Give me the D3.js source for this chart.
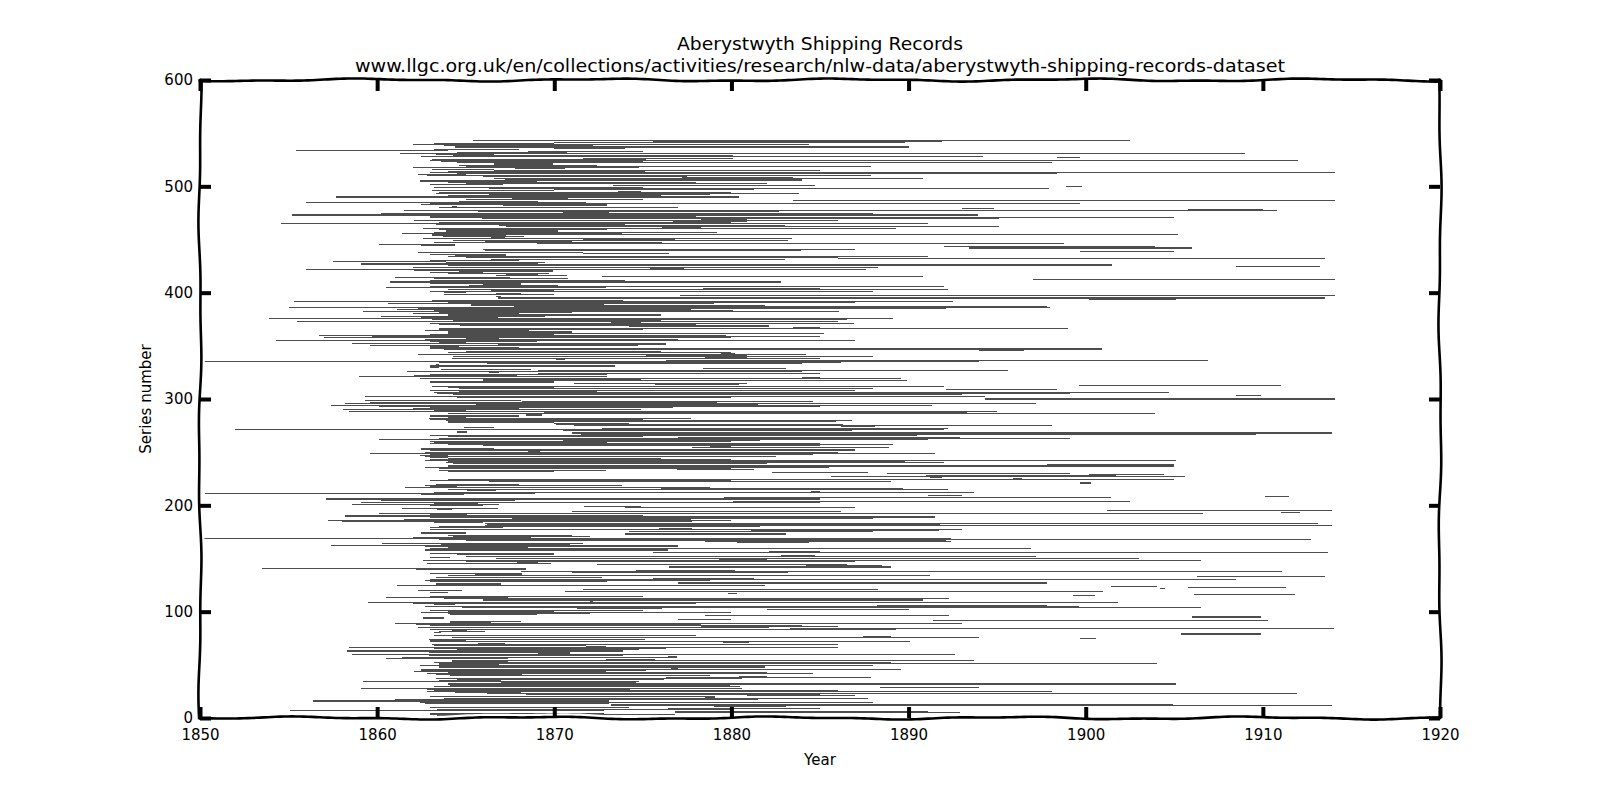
<!DOCTYPE html>
<html lang="en">
<head>
    <meta charset="utf-8"/>
    <title>Aberystwyth Shipping Records</title>
    <!-- d3 draws everything as svg -->
    <script src="https://d3js.org/d3.v7.min.js"></script>
    <style>
        body { margin: 0; background: #fff; }
        text { font-family: "DejaVu Sans", sans-serif; fill: #000; }
    </style>
</head>
<body>
<script>
    // every entry is [series number, first year, last year]
    const band500 = [
        [543,1865.4,1902.5],[542,1875.6,1891.9],[541,1870.0,1889.8],[540,1863.2,1870.0],[539,1862.0,1884.4],
        [538,1863.8,1872.2],[537,1864.4,1890.0],[536,1870.0,1874.0],[535,1863.2,1868.0],[534,1855.4,1864.0],
        [533,1868.5,1875.0],[532,1864.5,1870.7],[531,1861.3,1909.0],[530,1863.3,1866.6],[529,1864.3,1880.1],
        [528,1862.5,1894.2],[527,1898.4,1899.7],[526,1871.6,1880.1],[525,1863.1,1875.2],[524,1863.0,1912.0],
        [523,1863.6,1875.0],[522,1864.5,1898.1],[521,1866.6,1869.9],[520,1864.6,1872.4],[519,1865.0,1887.9],
        [518,1862.0,1874.8],[517,1867.8,1870.6],[516,1863.1,1866.6],[515,1866.6,1885.0],[514,1864.0,1875.1],
        [513,1863.0,1914.1],[512,1864.5,1898.4],[511,1862.3,1865.0],[510,1862.8,1887.9],[509,1866.0,1877.5],
        [508,1877.2,1883.5],[507,1866.6,1890.8],[506,1867.2,1884.0],[505,1862.4,1869.0],[504,1864.0,1878.0],
        [503,1865.0,1882.0],[502,1863.0,1867.1],[501,1873.3,1884.7],[500,1898.9,1899.8]
    ];
    const band400 = [
        [499,1863.2,1875.0],[498,1866.3,1897.9],[497,1870.0,1881.3],[496,1863.1,1870.0],[495,1873.6,1874.9],
        [494,1863.5,1880.0],[493,1863.3,1883.8],[492,1866.3,1878.8],[491,1864.0,1876.0],[490,1857.7,1880.4],
        [489,1867.6,1870.8],[488,1865.0,1875.0],[487,1883.5,1914.1],[486,1864.6,1869.1],[485,1856.0,1871.8],
        [484,1863.0,1899.7],[483,1862.5,1873.0],[482,1867.1,1873.0],[481,1864.2,1864.5],[480,1863.5,1877.0],
        [479,1893.0,1894.8],[478,1905.8,1910.0],[477,1861.5,1910.8],[476,1865.7,1882.7],[475,1870.5,1873.1],
        [474,1860.2,1888.0],[473,1855.2,1893.9],[472,1863.0,1878.0],[471,1863.0,1905.0],[470,1865.9,1895.1],
        [469,1878.3,1880.9],[468,1862.1,1886.0],[467,1876.7,1880.9],[466,1863.5,1880.0],[465,1854.6,1891.1],
        [464,1863.3,1874.0],[463,1866.9,1883.0],[462,1867.3,1895.1],[461,1876.1,1878.3],[460,1862.6,1889.3],
        [459,1863.5,1873.0],[458,1863.9,1870.2],[457,1863.2,1879.2],[456,1861.4,1873.8],[455,1863.1,1905.2],
        [454,1863.1,1867.3],[453,1863.7,1868.3],[452,1866.4,1867.2],[451,1862.6,1883.4],[450,1871.6,1876.8],
        [449,1864.3,1883.2],[448,1866.1,1871.0],[447,1863.2,1876.1],[446,1869.0,1898.8],[445,1860.1,1864.4],
        [444,1862.5,1864.4],[443,1892.0,1903.9],[442,1893.4,1906.0],[441,1866.0,1887.0],[440,1866.1,1883.9],
        [439,1899.7,1905.0],[438,1862.3,1871.6],[437,1871.6,1876.5],[436,1863.0,1867.3],[435,1864.4,1867.3],
        [434,1864.0,1891.1],[433,1865.0,1886.0],[432,1886.0,1913.5],[431,1866.4,1883.0],[430,1863.0,1868.0],
        [429,1857.5,1863.9],[428,1863.9,1869.5],[427,1859.1,1869.1],[426,1864.0,1901.5],[425,1908.5,1913.2],
        [424,1862.0,1888.3],[423,1875.4,1877.3],[422,1856.0,1887.6],[421,1862.1,1869.9],[420,1864.6,1869.9],
        [419,1863.0,1866.0],[418,1864.0,1869.7],[417,1867.3,1869.1],[416,1866.7,1870.7],[415,1872.7,1890.8],
        [414,1861.0,1867.5],[413,1863.2,1870.8],[412,1897.0,1914.1],[411,1863.0,1874.0],[410,1860.7,1882.8],
        [409,1863.0,1868.1],[408,1866.0,1868.1],[407,1865.2,1870.2],[406,1863.0,1892.0],[405,1860.5,1872.9],
        [404,1878.4,1885.0],[403,1864.0,1892.2],[402,1866.4,1870.0],[401,1863.0,1888.0],[400,1863.8,1865.0]
    ];
    const band300 = [
        [399,1866.7,1868.1],[398,1863.8,1870.0],[397,1877.1,1914.1],[396,1866.7,1867.0],[395,1866.8,1913.5],
        [394,1900.2,1905.1],[393,1863.1,1873.9],[392,1855.3,1892.5],[391,1864.0,1887.0],[390,1860.6,1879.0],
        [389,1865.3,1872.8],[388,1865.3,1881.9],[387,1867.7,1897.8],[386,1855.0,1898.0],[385,1862.3,1892.1],
        [384,1861.1,1877.7],[383,1863.2,1880.1],[382,1859.2,1886.1],[381,1863.5,1871.0],[380,1862.0,1868.0],
        [379,1864.0,1876.0],[378,1860.2,1869.5],[377,1862.5,1866.8],[376,1853.9,1889.1],[375,1863.1,1886.5],
        [374,1864.3,1876.0],[373,1855.5,1886.0],[372,1873.2,1874.9],[371,1863.0,1886.9],[370,1863.5,1878.0],
        [369,1864.7,1882.1],[368,1874.2,1882.1],[367,1883.5,1885.0],[366,1863.5,1899.0],[365,1863.5,1875.0],
        [364,1862.7,1868.6],[363,1864.0,1871.0],[362,1864.0,1885.2],[361,1863.0,1870.0],[360,1856.7,1879.7],
        [359,1859.7,1885.0],[358,1857.0,1880.0],[357,1865.0,1866.9],[356,1862.7,1877.0],[355,1854.3,1887.0],
        [354,1863.0,1869.0],[353,1863.5,1865.0],[352,1858.6,1876.3],[351,1866.8,1876.3],[350,1859.6,1874.7],
        [349,1863.0,1864.6],[348,1863.0,1868.0],[347,1863.8,1900.9],[346,1894.0,1896.5],[345,1865.0,1876.0],
        [344,1864.0,1880.0],[343,1879.4,1880.2],[342,1862.3,1884.2],[341,1875.2,1880.9],[340,1864.3,1888.0],
        [339,1878.5,1880.9],[338,1864.2,1885.0],[337,1870.1,1870.6],[336,1876.3,1906.9],[335,1850.2,1894.0],
        [334,1863.5,1886.2],[333,1866.2,1884.0],[332,1863.3,1863.5],[331,1863.0,1873.4],[330,1863.0,1863.5],
        [329,1878.4,1883.1],[328,1863.6,1868.7],[327,1869.1,1895.6],[326,1861.7,1884.0],[325,1866.3,1866.9],
        [324,1869.1,1885.0],[323,1863.0,1873.0],[322,1862.1,1867.9],[321,1859.0,1873.0],[320,1884.0,1885.0],
        [319,1862.4,1889.6],[318,1866.0,1874.9],[317,1866.0,1889.9],[316,1863.0,1870.0],[315,1871.1,1880.9],
        [314,1875.7,1880.4],[313,1899.6,1911.0],[312,1863.1,1892.0],[311,1864.0,1870.0],[310,1864.6,1888.0],
        [309,1892.1,1898.4],[308,1863.0,1887.0],[307,1864.6,1872.4],[306,1863.2,1904.7],[305,1863.4,1899.1],
        [304,1864.3,1893.0],[303,1908.5,1909.9],[302,1859.3,1894.3],[301,1864.5,1880.0],[300,1894.3,1914.1]
    ];
    const band200 = [
        [299,1859.3,1868.1],[298,1868.2,1884.6],[297,1859.6,1879.2],[296,1858.2,1897.2],[295,1865.6,1881.5],
        [294,1857.4,1891.3],[293,1860.1,1885.0],[292,1863.0,1876.7],[291,1862.0,1868.0],[290,1858.1,1874.9],
        [289,1863.2,1865.0],[288,1858.4,1895.0],[287,1869.4,1893.3],[286,1864.0,1903.9],[285,1868.4,1869.3],
        [284,1863.0,1868.0],[283,1864.0,1865.0],[282,1862.9,1877.7],[281,1863.0,1875.0],[280,1863.9,1886.8],
        [279,1864.0,1885.9],[278,1864.0,1870.0],[277,1870.0,1874.2],[276,1870.1,1886.3],[275,1871.1,1898.1],
        [274,1886.2,1888.1],[273,1864.9,1866.6],[272,1872.7,1892.2],[271,1852.0,1892.0],[270,1870.5,1886.8],
        [269,1864.5,1865.1],[268,1871.0,1913.9],[267,1871.5,1909.6],[266,1863.0,1890.5],[265,1864.0,1875.0],
        [264,1877.0,1892.9],[263,1863.5,1899.1],[262,1860.1,1891.1],[261,1870.5,1881.6],[260,1863.0,1880.0],
        [259,1863.2,1873.0],[258,1863.0,1885.0],[257,1864.0,1889.1],[256,1866.0,1885.0],[255,1878.8,1880.0],
        [254,1877.8,1888.9],[253,1862.5,1866.6],[252,1863.0,1887.0],[251,1868.5,1869.2],[250,1862.7,1886.0],
        [249,1859.6,1891.5],[248,1863.0,1884.6],[247,1862.4,1864.0],[246,1862.7,1882.5],[245,1863.0,1864.0],
        [244,1864.0,1876.0],[243,1863.0,1880.0],[242,1862.7,1905.1],[241,1864.0,1889.8],[240,1863.9,1892.0],
        [239,1864.3,1882.0],[238,1897.8,1905.0],[237,1864.0,1905.0],[236,1862.7,1885.5],[235,1863.5,1880.0],
        [234,1876.9,1881.3],[233,1863.5,1872.9],[232,1864.0,1870.0],[231,1882.3,1887.7],[230,1888.8,1899.1],
        [229,1900.2,1904.4],[228,1891.0,1901.7],[227,1885.6,1905.6],[226,1891.2,1891.9],[225,1895.9,1896.4],
        [224,1864.0,1905.0],[223,1863.0,1880.0],[222,1866.3,1889.0],[221,1899.7,1900.3],[220,1863.3,1868.0],
        [219,1862.7,1873.8],[218,1863.0,1864.5],[217,1861.6,1878.8],[216,1876.0,1889.7],[215,1864.0,1892.2],
        [214,1865.1,1866.7],[213,1884.5,1885.0],[212,1863.2,1893.7],[211,1850.3,1868.9],[210,1862.5,1864.9],
        [209,1891.1,1893.0],[208,1910.1,1911.5],[207,1879.6,1901.4],[206,1857.1,1885.0],[205,1860.2,1867.8],
        [204,1880.1,1902.5],[203,1859.1,1885.0],[202,1863.2,1865.7],[201,1858.6,1866.9],[200,1863.0,1866.0]
    ];
    const band100 = [
        [199,1871.7,1874.9],[198,1874.0,1887.0],[197,1861.4,1866.8],[196,1863.4,1864.2],[195,1901.2,1913.9],
        [194,1871.0,1886.2],[193,1911.0,1912.1],[192,1860.1,1906.6],[191,1863.0,1865.1],[190,1858.2,1875.0],
        [189,1863.0,1891.5],[188,1867.6,1888.0],[187,1861.5,1877.7],[186,1857.2,1880.0],[185,1858.0,1877.8],
        [184,1863.2,1866.0],[183,1866.1,1913.1],[182,1866.2,1891.8],[181,1866.1,1913.9],[180,1863.5,1881.6],
        [179,1863.0,1867.1],[178,1875.9,1877.8],[177,1863.0,1893.0],[176,1881.1,1891.7],[175,1874.2,1888.0],
        [174,1862.5,1865.0],[173,1874.0,1883.1],[172,1864.0,1871.0],[171,1864.3,1872.0],[170,1862.0,1868.7],
        [169,1850.2,1892.4],[168,1863.5,1912.7],[167,1865.0,1892.1],[166,1878.5,1892.4],[165,1880.3,1884.4],
        [164,1860.3,1871.6],[163,1863.6,1870.9],[162,1857.4,1877.0],[161,1862.7,1877.0],[160,1864.0,1868.5],
        [159,1863.0,1896.9],[158,1862.7,1876.4],[157,1882.1,1885.0],[156,1875.6,1913.7],[155,1863.0,1870.0],
        [154,1864.5,1870.0],[153,1882.8,1884.7],[152,1865.0,1897.2],[151,1863.0,1864.1],[150,1866.7,1903.0],
        [149,1879.3,1882.0],[148,1862.6,1906.5],[147,1865.0,1887.0],[146,1867.9,1869.1],[145,1862.8,1869.8],
        [144,1872.4,1886.5],[143,1884.2,1888.5],[142,1876.5,1889.0],[141,1853.5,1868.4],[140,1862.2,1868.4],
        [139,1874.6,1880.2],[138,1868.1,1911.1],[137,1871.0,1883.2],[136,1863.0,1868.2],[135,1865.5,1868.2],
        [134,1864.0,1891.2],[133,1906.3,1913.5],[132,1863.3,1872.7],[131,1875.6,1881.3],[130,1863.0,1908.5],
        [129,1862.7,1878.8],[128,1863.0,1873.0],[127,1877.0,1897.8],[126,1863.3,1867.0],[125,1861.1,1881.9],
        [124,1901.4,1904.0],[123,1905.8,1911.3],[122,1904.2,1904.5],[121,1871.6,1888.3],[120,1862.3,1864.8],
        [119,1870.6,1901.0],[118,1863.0,1864.0],[117,1879.8,1880.3],[116,1906.1,1911.8],[115,1899.3,1900.5],
        [114,1863.0,1875.0],[113,1860.5,1867.4],[112,1863.8,1892.3],[111,1866.0,1890.8],[110,1872.0,1872.2],
        [109,1859.5,1901.8],[108,1862.0,1878.0],[107,1863.2,1864.4],[106,1888.2,1897.8],[105,1862.7,1899.6],
        [104,1864.8,1906.5],[103,1871.3,1876.1],[102,1882.0,1890.0],[101,1863.0,1875.0],[100,1864.0,1870.0]
    ];
    const band0 = [
        [99,1862.5,1880.0],[98,1864.0,1872.0],[97,1864.1,1869.0],[96,1878.5,1892.3],[95,1906.0,1909.9],
        [94,1862.6,1863.8],[93,1877.0,1880.0],[92,1891.4,1910.3],[91,1864.1,1868.1],[90,1864.1,1866.4],
        [89,1861.0,1893.0],[88,1862.2,1878.3],[87,1863.0,1884.0],[86,1878.3,1886.0],[85,1862.3,1882.1],
        [84,1883.3,1914.0],[83,1863.0,1889.3],[82,1864.2,1865.1],[81,1863.5,1866.1],[80,1863.2,1863.6],
        [79,1905.4,1909.9],[78,1863.2,1878.0],[77,1887.4,1889.0],[76,1864.2,1894.0],[75,1899.7,1900.6],
        [74,1862.9,1875.1],[73,1863.0,1865.0],[72,1863.0,1890.1],[71,1879.5,1881.0],[70,1865.7,1867.2],
        [69,1863.1,1886.0],[68,1863.2,1871.8],[67,1871.8,1872.9],[66,1858.4,1886.0],[65,1863.2,1876.3],
        [64,1864.5,1874.8],[63,1858.3,1873.9],[62,1862.9,1870.9],[61,1869.1,1870.9],[60,1858.6,1892.6],
        [59,1862.9,1873.9],[58,1876.4,1876.9],[57,1861.4,1876.9],[56,1860.5,1867.4],[55,1872.9,1875.7],
        [54,1864.2,1893.7],[53,1864.2,1867.4],[52,1863.2,1889.0],[51,1863.5,1904.0],[50,1863.5,1866.9],
        [49,1862.4,1888.0],[48,1863.5,1881.9],[47,1876.6,1877.0],[46,1862.5,1889.6],[45,1862.5,1875.2],
        [44,1862.1,1872.9],[43,1864.0,1882.0],[42,1862.8,1884.6],[41,1863.3,1868.2],[40,1864.1,1878.8],
        [39,1880.4,1882.0],[38,1876.3,1887.9],[37,1863.3,1880.6],[36,1864.5,1876.2],[35,1863.5,1867.0],
        [34,1859.2,1874.8],[33,1867.0,1874.6],[32,1864.0,1905.1],[31,1864.1,1879.9],[30,1863.2,1880.5],
        [29,1888.4,1894.0],[28,1859.1,1880.6],[27,1862.8,1874.3],[26,1863.2,1886.0],[25,1862.8,1898.1],
        [24,1864.4,1868.1],[23,1866.2,1911.9],[22,1868.4,1885.0],[21,1880.9,1887.0],[20,1863.0,1879.1],
        [19,1878.5,1879.1],[18,1863.8,1887.7],[17,1861.0,1881.5],[16,1856.4,1873.1],[15,1862.4,1888.0],
        [14,1862.7,1873.1],[13,1873.2,1904.9],[12,1873.2,1913.9],[11,1879.0,1883.1],[10,1863.0,1874.2],
        [9,1876.4,1885.0],[8,1863.4,1880.0],[7,1855.1,1872.8],[6,1876.8,1891.1],[5,1876.8,1892.9],
        [4,1863.0,1872.8],[3,1863.0,1876.8],[2,1863.4,1870.0],[1,1865.0,1875.0],[0,1868.0,1878.0]
    ];

    const xTicks = [1850, 1860, 1870, 1880, 1890, 1900, 1910, 1920];
    const yTicks = [0, 100, 200, 300, 400, 500, 600];
    const titleLines = ["Aberystwyth Shipping Records",
        "www.llgc.org.uk/en/collections/activities/research/nlw-data/aberystwyth-shipping-records-dataset"];

    const segments = [].concat(band500, band400, band300, band200, band100, band0);

    const W = 1600, H = 800;
    const plotLeft = 200, plotRight = 1440, plotTop = 80, plotBottom = 718;

    const x = d3.scaleLinear().domain([1850, 1920]).range([plotLeft, plotRight]);
    const y = d3.scaleLinear().domain([0, 600]).range([plotBottom, plotTop]);

    const svg = d3.select("body").append("svg")
        .attr("width", W)
        .attr("height", H);

    // the series lines
    svg.append("g")
        .selectAll("line")
        .data(segments)
        .join("line")
        .attr("x1", d => x(d[1]))
        .attr("x2", d => x(d[2]))
        .attr("y1", d => y(d[0]))
        .attr("y2", d => y(d[0]))
        .attr("stroke", "#4d4d4d")
        .attr("stroke-width", 1.1)
        .attr("shape-rendering", "crispEdges");

    // hand drawn looking frame, a small wobble along each side
    function wobble(x0, y0, x1, y1, seed) {
        const len = Math.hypot(x1 - x0, y1 - y0);
        const nx = -(y1 - y0) / len, ny = (x1 - x0) / len;
        const pts = [];
        for (let t = 0; t <= len; t += 4) {
            const off = 1.1 * Math.sin(t / 38 + seed) + 0.5 * Math.sin(t / 15 + seed * 2.3);
            const f = t / len;
            pts.push([x0 + (x1 - x0) * f + nx * off, y0 + (y1 - y0) * f + ny * off]);
        }
        pts.push([x1, y1]);
        return d3.line()(pts);
    }
    const sides = [
        [plotLeft, plotTop, plotRight, plotTop, 0.4],
        [plotRight, plotTop, plotRight, plotBottom, 1.7],
        [plotRight, plotBottom, plotLeft, plotBottom, 2.9],
        [plotLeft, plotBottom, plotLeft, plotTop, 4.1]
    ];
    const frame = svg.append("g");
    frame.selectAll("path.halo")
        .data(sides)
        .join("path")
        .attr("class", "halo")
        .attr("d", d => wobble(...d))
        .attr("fill", "none")
        .attr("stroke", "#fff")
        .attr("stroke-width", 7);
    frame.selectAll("path.edge")
        .data(sides)
        .join("path")
        .attr("class", "edge")
        .attr("d", d => wobble(...d))
        .attr("fill", "none")
        .attr("stroke", "#000")
        .attr("stroke-width", 2.6)
        .attr("stroke-linecap", "square");

    // axes: ticks point inwards on all four sides
    function styleAxis(g) {
        g.select(".domain").remove();
        g.selectAll(".tick line").attr("stroke", "#000").attr("stroke-width", 4);
        g.selectAll(".tick text").style("font-size", "15px").attr("fill", "#000");
    }
    svg.append("g")
        .attr("transform", `translate(0,${plotBottom})`)
        .call(d3.axisBottom(x).tickValues(xTicks).tickFormat(d3.format("d"))
            .tickSizeInner(-11).tickSizeOuter(0).tickPadding(11))
        .call(styleAxis);
    svg.append("g")
        .attr("transform", `translate(0,${plotTop})`)
        .call(d3.axisTop(x).tickValues(xTicks).tickFormat("")
            .tickSizeInner(-11).tickSizeOuter(0))
        .call(styleAxis);
    svg.append("g")
        .attr("transform", `translate(${plotLeft},0)`)
        .call(d3.axisLeft(y).tickValues(yTicks).tickFormat(d3.format("d"))
            .tickSizeInner(-11).tickSizeOuter(0).tickPadding(7))
        .call(styleAxis);
    svg.append("g")
        .attr("transform", `translate(${plotRight},0)`)
        .call(d3.axisRight(y).tickValues(yTicks).tickFormat("")
            .tickSizeInner(-11).tickSizeOuter(0))
        .call(styleAxis);

    // titles and labels
    svg.append("text")
        .attr("x", (plotLeft + plotRight) / 2).attr("y", 50)
        .attr("text-anchor", "middle")
        .attr("textLength", 286).attr("lengthAdjust", "spacingAndGlyphs")
        .style("font-size", "17px")
        .text(titleLines[0]);
    svg.append("text")
        .attr("x", (plotLeft + plotRight) / 2).attr("y", 72)
        .attr("text-anchor", "middle")
        .attr("textLength", 930).attr("lengthAdjust", "spacingAndGlyphs")
        .style("font-size", "17px")
        .text(titleLines[1]);
    svg.append("text")
        .attr("x", (plotLeft + plotRight) / 2).attr("y", 765)
        .attr("text-anchor", "middle")
        .style("font-size", "15px")
        .text("Year");
    svg.append("text")
        .attr("transform", `translate(151,${(plotTop + plotBottom) / 2}) rotate(-90)`)
        .attr("text-anchor", "middle")
        .style("font-size", "15px")
        .text("Series number");
</script>
</body>
</html>
